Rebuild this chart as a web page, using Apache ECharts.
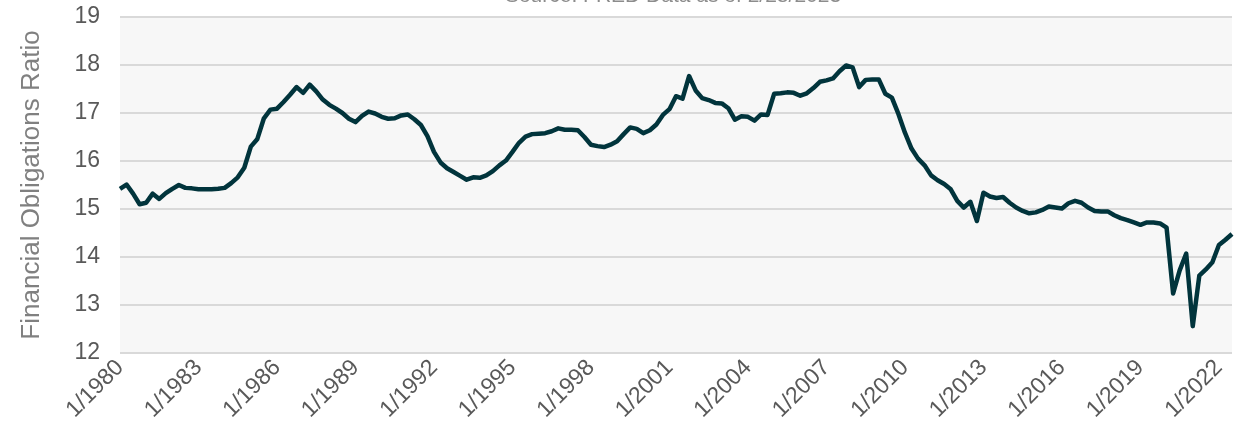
<!DOCTYPE html>
<html>
<head>
<meta charset="utf-8">
<script src="https://cdn.jsdelivr.net/npm/echarts@6/dist/echarts.min.js"></script>
<style>
  html, body { margin: 0; padding: 0; background: #fff; }
  #chart { width: 1248px; height: 434px; }
</style>
</head>
<body>
<div id="chart"></div>
<script>
// quarterly, 1980 Q1 .. 2022 Q3
const startYear = 1980;
const quarterMonths = [1, 4, 7, 10];

const ratioValues = [
  15.42, 15.51, 15.32, 15.10, 15.13, 15.32, 15.21, 15.33, 15.42, 15.50,
  15.44, 15.43, 15.41, 15.41, 15.41, 15.42, 15.44, 15.54, 15.66, 15.86,
  16.30, 16.46, 16.89, 17.07, 17.09, 17.23, 17.38, 17.54, 17.42, 17.59,
  17.45, 17.28, 17.17, 17.09, 17.00, 16.88, 16.81, 16.94, 17.03, 16.99,
  16.92, 16.88, 16.89, 16.95, 16.97, 16.87, 16.75, 16.52, 16.19, 15.97,
  15.85, 15.77, 15.69, 15.61, 15.66, 15.65, 15.70, 15.79, 15.91, 16.01,
  16.19, 16.38, 16.51, 16.56, 16.57, 16.58, 16.62, 16.68, 16.65, 16.65,
  16.64, 16.50, 16.34, 16.31, 16.29, 16.34, 16.41, 16.56, 16.70, 16.67,
  16.58, 16.64, 16.76, 16.96, 17.08, 17.35, 17.30, 17.77, 17.47, 17.31,
  17.27, 17.21, 17.20, 17.10, 16.86, 16.93, 16.92, 16.84, 16.97, 16.96,
  17.40, 17.41, 17.43, 17.42, 17.36, 17.41, 17.52, 17.65, 17.68, 17.72,
  17.87, 17.99, 17.95, 17.54, 17.69, 17.70, 17.70, 17.40, 17.32, 16.98,
  16.59, 16.26, 16.05, 15.91, 15.70, 15.60, 15.52, 15.41, 15.17, 15.03,
  15.15, 14.75, 15.34, 15.26, 15.23, 15.25, 15.13, 15.03, 14.96, 14.91,
  14.93, 14.98, 15.05, 15.03, 15.01, 15.12, 15.17, 15.13, 15.03, 14.96,
  14.95, 14.95, 14.87, 14.81, 14.77, 14.72, 14.67, 14.72, 14.72, 14.70,
  14.61, 13.24, 13.72, 14.07, 12.56, 13.61, 13.74, 13.89, 14.25, 14.36,
  14.48
];

const quarterLabels = ratioValues.map(function (v, i) {
  return quarterMonths[i % 4] + '/' + (startYear + Math.floor(i / 4));
});

const yTicks = [12, 13, 14, 15, 16, 17, 18, 19];

const font = 'Liberation Sans, Arial, sans-serif';
const chart = echarts.init(document.getElementById('chart'));

chart.setOption({
  animation: false,
  title: {
    text: 'Source: FRED Data as of 2/28/2023',
    left: 668,
    textAlign: 'center',
    top: -19,
    textStyle: { color: '#8c8c8c', fontSize: 21, fontWeight: 'normal', fontFamily: font }
  },
  grid: {
    left: 120, right: 16, top: 17, bottom: 81,
    show: true,
    backgroundColor: '#f7f7f7',
    borderWidth: 0
  },
  xAxis: {
    type: 'category',
    data: quarterLabels,
    boundaryGap: false,
    axisLine: { show: false },
    axisTick: { show: false },
    axisLabel: {
      interval: 11,
      rotate: 45,
      margin: 11,
      color: '#595959',
      fontSize: 23,
      fontFamily: font
    },
    splitLine: { show: false }
  },
  yAxis: {
    type: 'value',
    min: yTicks[0],
    max: yTicks[yTicks.length - 1],
    interval: 1,
    name: 'Financial Obligations Ratio',
    nameLocation: 'middle',
    nameGap: 75,
    nameTextStyle: { color: '#808080', fontSize: 26, fontFamily: font },
    axisLine: { show: false },
    axisTick: { show: false },
    axisLabel: {
      color: '#595959',
      fontSize: 23,
      margin: 20,
      fontFamily: font
    },
    splitLine: { lineStyle: { color: '#d9d9d9', width: 2 } }
  },
  series: [{
    name: 'Financial Obligations Ratio',
    type: 'line',
    data: ratioValues,
    symbol: 'none',
    lineStyle: { color: '#01343c', width: 4.5, join: 'round' },
    itemStyle: { color: '#01343c' }
  }]
});
</script>
</body>
</html>
